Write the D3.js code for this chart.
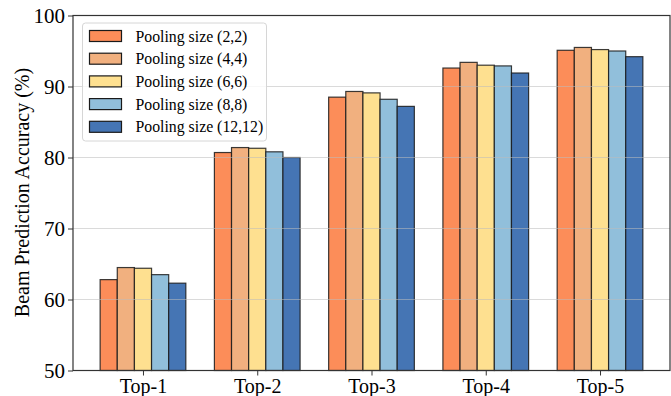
<!DOCTYPE html>
<html>
<head>
<meta charset="utf-8">
<script src="https://cdn.jsdelivr.net/npm/d3@7"></script>
<style>
  body { margin: 0; background: #fff; }
  svg { display: block; font-family: "Liberation Serif", "Times New Roman", serif; }
</style>
</head>
<body>
<svg id="chart" width="671" height="396"></svg>
<script>
// data
var categories = ["Top-1", "Top-2", "Top-3", "Top-4", "Top-5"];
var series = ["Pooling size (2,2)", "Pooling size (4,4)", "Pooling size (6,6)", "Pooling size (8,8)", "Pooling size (12,12)"];
var colors = ["#fc8d59", "#f1b07f", "#fee090", "#91bfdb", "#4575b4"];
var p22   = [62.8, 80.7, 88.5, 92.6, 95.1];
var p44   = [64.5, 81.4, 89.3, 93.4, 95.5];
var p66   = [64.4, 81.3, 89.1, 93.0, 95.2];
var p88   = [63.5, 80.8, 88.2, 92.9, 95.0];
var p1212 = [62.3, 80.0, 87.2, 91.9, 94.2];
var yTicks = [50, 60, 70, 80, 90, 100];

var values = [p22, p44, p66, p88, p1212];

var svg = d3.select("#chart");
var marge = {top: 15.5, bottom: 25.5, left: 73, right: 1};
var width = 671 - marge.left - marge.right;
var height = 396 - marge.top - marge.bottom;
var g = svg.append("g").attr("transform", "translate(" + marge.left + "," + marge.top + ")");

var barW = 0.15;
// matplotlib style: bars span -0.375..4.375 plus 5% margin
var x = d3.scaleLinear().domain([-0.6125, 4.6125]).range([0, width]);
var y = d3.scaleLinear().domain([50, 100]).range([height, 0]);

// bars
values.forEach(function(vals, s) {
  g.append("g").selectAll("rect")
    .data(vals)
    .enter().append("rect")
    .attr("x", function(d, i) { return x(i + (s - 2) * barW - barW / 2); })
    .attr("width", x(barW) - x(0))
    .attr("y", function(d) { return y(d); })
    .attr("height", function(d) { return y(50) - y(d); })
    .attr("fill", colors[s])
    .attr("stroke", "#1a1a1a")
    .attr("stroke-opacity", 0.85)
    .attr("stroke-width", 1.2);
});

// grid on top of bars
g.append("g").selectAll("line")
  .data(yTicks.slice(1, -1))
  .enter().append("line")
  .attr("x1", 0).attr("x2", width)
  .attr("y1", function(d) { return y(d); })
  .attr("y2", function(d) { return y(d); })
  .attr("stroke", "#bbbbbb")
  .attr("stroke-opacity", 0.55)
  .attr("stroke-width", 1);

// axes
var yAxis = d3.axisLeft(y).tickValues(yTicks).tickSize(5).tickPadding(3);
var xAxis = d3.axisBottom(x).tickValues(d3.range(categories.length))
  .tickFormat(function(d) { return categories[d]; }).tickSize(5).tickPadding(3);

var ya = g.append("g").call(yAxis);
var xa = g.append("g").attr("transform", "translate(0," + height + ")").call(xAxis);
[ya, xa].forEach(function(a) {
  a.select(".domain").remove();
  a.selectAll("line").attr("stroke", "#333").attr("stroke-width", 1);
  a.selectAll("text").attr("fill", "#000").style("font-size", "21px")
    .style("font-family", "'Liberation Serif', 'Times New Roman', serif");
});
xa.selectAll("text").style("font-size", "20px");

// frame
g.append("rect").attr("width", width).attr("height", height)
  .attr("fill", "none").attr("stroke", "#333").attr("stroke-width", 1.2);

// y label
svg.append("text")
  .attr("transform", "translate(29," + 192.5 + ") rotate(-90)")
  .attr("text-anchor", "middle")
  .style("font-size", "20px")
  .text("Beam Prediction Accuracy (%)");

// legend
var legend = g.append("g").attr("transform", "translate(9.5,7.5)");
legend.append("rect")
  .attr("width", 184).attr("height", 118).attr("rx", 3)
  .attr("fill", "#fff").attr("fill-opacity", 0.8)
  .attr("stroke", "#d6d6d6");
var items = legend.selectAll(".item").data(series).enter().append("g")
  .attr("transform", function(d, i) { return "translate(7," + (13 + i * 22.7) + ")"; });
items.append("rect")
  .attr("y", -5.5).attr("width", 32).attr("height", 11)
  .attr("fill", function(d, i) { return colors[i]; })
  .attr("stroke", "#1a1a1a").attr("stroke-width", 1.2);
items.append("text")
  .attr("x", 46).attr("dy", "0.35em")
  .style("font-size", "15.8px")
  .text(function(d) { return d; });
</script>
</body>
</html>
